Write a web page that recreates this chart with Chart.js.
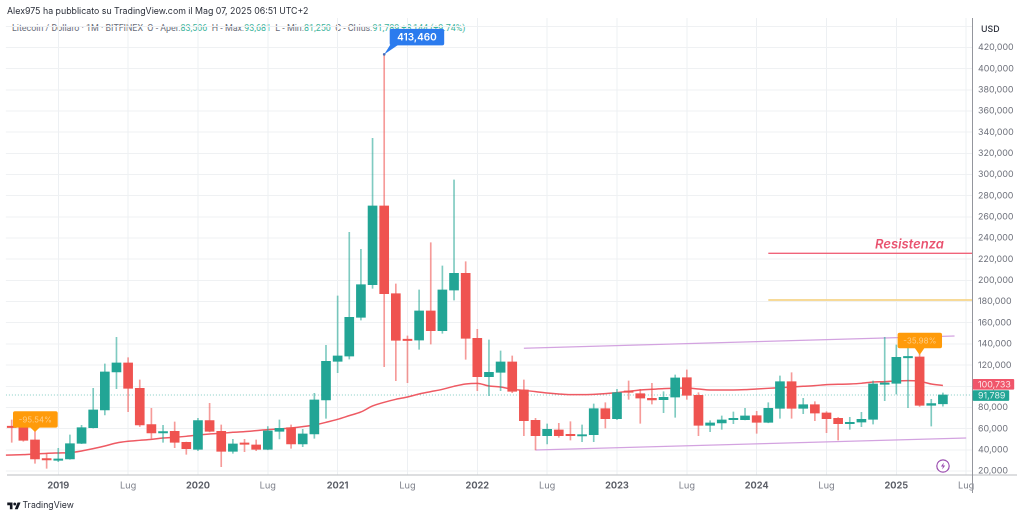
<!DOCTYPE html>
<html lang="it">
<head>
<meta charset="utf-8">
<title>Litecoin / Dollaro</title>
<script src="https://cdn.jsdelivr.net/npm/chart.js@4/dist/chart.umd.min.js"></script>
<style>
html,body{margin:0;padding:0;background:#fff;width:1024px;height:517px;overflow:hidden}
#wrap{position:relative;width:1024px;height:517px}
canvas{position:absolute;left:0;top:0;z-index:1;display:block}
.t{position:absolute;white-space:pre;font-family:Inter,"Liberation Sans",sans-serif}
#head{left:7px;top:4px;font-size:8.8px;line-height:13px;color:#2a2e39;z-index:2}
#legend{left:12px;top:22px;font-family:Roboto,sans-serif;font-size:8.9px;line-height:13px;color:#6a6e7a;z-index:0}
#legend b{font-weight:400;color:#3bb39b}
#tv{left:22.5px;top:498px;font-size:8.7px;line-height:14px;color:#2a2e39;z-index:2}
#logo{position:absolute;left:7px;top:501px;z-index:2}
#bolt{position:absolute;left:936px;top:459px;z-index:2}
</style>
</head>
<body>
<div id="wrap">
<div class="t" id="head">Alex975 ha pubblicato su TradingView.com il Mag 07, 2025 06:51 UTC+2</div>
<div class="t" id="legend">Litecoin / Dollaro · 1M · BITFINEX  O - Aper.<b>83,506</b>  H - Max.<b>93,681</b>  L - Min.<b>81,250</b>  C - Chius.<b>91,789 +8,144 (+9.74%)</b></div>
<canvas id="c" width="1024" height="517"></canvas>
<svg id="logo" width="14" height="9" viewBox="0 0 36 24"><path fill="#131722" d="M14 22H7V11H0V4h14v18zM28 22h-8l7.5-18h8L28 22z"/><circle fill="#131722" cx="20" cy="8" r="4"/></svg>
<div class="t" id="tv">TradingView</div>
<svg id="bolt" width="14" height="14" viewBox="0 0 14 14"><circle cx="7" cy="7" r="6.2" fill="#fff" stroke="#9c4fb0" stroke-width="1.2"/><path d="M7.8 3.4 4.9 7.6h2L6.2 10.6 9.2 6.4h-2z" fill="#9c4fb0"/></svg>
</div>
<script>
const months = [
'2018-09','2018-10','2018-11','2018-12',
'2019-01','2019-02','2019-03','2019-04','2019-05','2019-06','2019-07','2019-08','2019-09','2019-10','2019-11','2019-12',
'2020-01','2020-02','2020-03','2020-04','2020-05','2020-06','2020-07','2020-08','2020-09','2020-10','2020-11','2020-12',
'2021-01','2021-02','2021-03','2021-04','2021-05','2021-06','2021-07','2021-08','2021-09','2021-10','2021-11','2021-12',
'2022-01','2022-02','2022-03','2022-04','2022-05','2022-06','2022-07','2022-08','2022-09','2022-10','2022-11','2022-12',
'2023-01','2023-02','2023-03','2023-04','2023-05','2023-06','2023-07','2023-08','2023-09','2023-10','2023-11','2023-12',
'2024-01','2024-02','2024-03','2024-04','2024-05','2024-06','2024-07','2024-08','2024-09','2024-10','2024-11','2024-12',
'2025-01','2025-02','2025-03','2025-04','2025-05','2025-06','2025-07'];
const opens = [
61500,61240,49280,31650,
30070,31330,46130,60920,77610,113500,122000,98070,63760,55890,57460,47070,
40460,67540,57460,38570,45810,44550,40460,57460,60920,45500,54940,87050,
123570,128600,165140,195920,270240,187400,144180,143700,171090,152480,190920,206690,
145310,109050,113200,122930,96490,67880,53330,58720,54000,53050,54280,78830,
69390,94900,92990,88650,87330,89880,108100,91480,63150,65330,68440,68440,
72220,65990,79210,104330,79210,82610,74770,69770,64670,66270,68820,101870,
102810,126900,127650,82040,83506];
const closes = [
61000,48960,31330,30390,
31330,45810,60920,77610,113500,122000,98070,63440,55890,57150,47070,41090,
67540,57460,38570,45500,45180,40460,57780,60290,45500,54940,87050,123570,
128600,165140,195920,270240,187400,143420,143230,171090,152480,190920,206690,145310,
109050,113200,122930,95260,67500,53330,59380,53330,53330,54280,78830,69390,
93940,94320,88930,87050,89600,107820,91480,63150,65330,68160,69100,71940,
65990,79210,104330,79210,82610,74770,69390,64670,66000,68820,102150,102440,
127370,127800,82040,83645,91789];
const highs = [
68170,61500,57150,36680,
41410,54000,63130,98070,121050,146240,127030,105940,79180,63130,66280,47300,
69740,83900,63440,49910,49910,49280,61870,68170,63440,59350,93350,138680,
185250,245400,229350,334170,413460,196580,147480,190920,235580,213580,294790,217640,
153810,143700,133320,128600,105930,69770,64380,65040,66550,63440,83270,84500,
97150,104990,97150,102810,94880,110650,115370,93940,67500,71940,75710,79210,
76370,84500,109710,112830,88650,85440,76000,70500,70710,75430,104990,146250,
138980,142000,131000,87700,93681];
const lows = [
47070,48000,27240,22520,
28810,31000,45800,60500,72890,97760,76030,62000,50850,47070,42040,35740,
39200,56830,24090,36680,38260,39200,40000,50220,41410,42980,50850,69740,
112870,125760,162600,192520,118500,105270,103380,134920,139930,150000,181480,125480,
95830,91100,95830,93900,53330,39830,45500,51820,49270,47670,47670,60600,
68500,87700,65040,83270,75050,70710,87700,53330,57110,59380,64670,68160,
55600,65500,69770,69770,74110,67500,56170,49270,59380,61830,64380,86380,
92710,79770,81000,62490,81250];
// moving average, first value belongs to the month before the first category
const movingAverage = [
34800,35110,35430,36050,36680,37000,37310,38890,41090,43610,46440,48020,48960,49900,51170,51800,52740,54000,54940,55570,56520,57150,58090,
59040,59660,60610,61870,63440,65960,68790,72260,75720,81390,84850,87680,89890,92720,94920,97130,99960,102160,102790,100270,99330,97130,
96180,94920,93660,92720,92090,92090,92400,93030,93980,95240,96500,97130,97760,98070,98390,97440,96500,96500,96500,96810,97440,98070,
98700,99330,99960,100590,101530,101850,102160,102790,104050,104370,105000,105310,104680,102160,100733];
const channelTop = [{x:44,y:135870},{x:81,y:147480}];
const channelBottom = [{x:45,y:39830},{x:82,y:51160}];
const resistanceLine = [{x:65,y:225570},{x:82.5,y:225570}];
const supportLine = [{x:65,y:181470},{x:82.5,y:181470}];
const lastPriceLine = [{x:-0.5,y:91789},{x:82.5,y:91789}];
const tickMonths = ['2019-01','2019-07','2020-01','2020-07','2021-01','2021-07','2022-01','2022-07','2023-01','2023-07','2024-01','2024-07','2025-01','2025-07'];
const tickLabels = ['2019','Lug','2020','Lug','2021','Lug','2022','Lug','2023','Lug','2024','Lug','2025','Lug'];
const yTicks = [20000,40000,60000,80000,100000,120000,140000,160000,180000,200000,220000,240000,260000,280000,300000,320000,340000,360000,380000,400000,420000,440000];

const UP='#22a595', DOWN='#ef5350';
const num = v => v.toLocaleString('en-US');
const sans = 'Inter,"Liberation Sans",sans-serif';

const overlay = {
  id:'overlay',
  afterDraw(chart){
    const {ctx,chartArea:a,scales} = chart, xs=scales.x, ys=scales.y;
    ctx.save();
    // axis frame
    ctx.strokeStyle='#c8c9cd'; ctx.lineWidth=1.2;
    ctx.beginPath(); ctx.moveTo(7,a.bottom); ctx.lineTo(1017,a.bottom); ctx.stroke();
    ctx.strokeStyle='#94969d'; ctx.lineWidth=1;
    ctx.beginPath(); ctx.moveTo(a.right+.5,a.top); ctx.lineTo(a.right+.5,493); ctx.stroke();
    // USD caption
    ctx.font='500 8.8px '+sans; ctx.fillStyle='#2a2e39'; ctx.textAlign='left'; ctx.textBaseline='middle';
    ctx.fillText('USD',981,29.5);
    // Resistenza
    ctx.font='italic 600 13px '+sans; ctx.fillStyle='#e9526f'; ctx.textAlign='center';
    ctx.fillText('Resistenza',xs.getPixelForValue(77)+1.5,ys.getPixelForValue(234000));
    // callouts
    const bubble=(px,py,l,t,w,h,b0,b1,color,label,textColor,font)=>{
      ctx.fillStyle=color;
      ctx.beginPath(); ctx.roundRect(px+l,py+t,w,h,2); ctx.fill();
      ctx.beginPath(); ctx.moveTo(px,py); ctx.lineTo(px+b0,py+t+h-.5); ctx.lineTo(px+b1,py+t+h-.5); ctx.closePath(); ctx.fill();
      ctx.fillStyle=textColor; ctx.font=font+' '+sans; ctx.textAlign='center'; ctx.textBaseline='middle';
      ctx.fillText(label,px+l+w/2,py+t+h/2+.5);
    };
    const hx=xs.getPixelForValue(32), hy=ys.getPixelForValue(413460);
    ctx.fillStyle='#4a6fb5'; ctx.beginPath(); ctx.arc(hx,hy,1.3,0,7); ctx.fill();
    bubble(hx,hy,5.5,-25.5,54.5,16.5,6,14,'#2b7bee',num(413460),'#ffffff','600 10px');
    bubble(xs.getPixelForValue(2),ys.getPixelForValue(56830),-22,-20.7,44.7,16.3,-5,5,'#ff9b0a','-95.54%','rgba(255,255,255,.5)','400 8px');
    bubble(xs.getPixelForValue(78),ys.getPixelForValue(129540),-22,-22.3,44.4,15.6,-5,5,'#ff9b0a','-35.98%','rgba(255,255,255,.5)','400 8px');
    // price tags
    const tag=(v,dy,w,color,label)=>{
      const y=ys.getPixelForValue(v)+dy;
      ctx.fillStyle=color; ctx.beginPath(); ctx.roundRect(a.right+.7,y-5.3,w,10.6,1); ctx.fill();
      ctx.fillStyle='rgba(255,255,255,.85)'; ctx.font='400 8.9px '+sans; ctx.textAlign='left'; ctx.textBaseline='middle';
      ctx.fillText(label,a.right+6,y+.4);
    };
    tag(100733,-1.2,41.5,'#f0556a',num(100733));
    tag(91789,.6,36.5,'#22a595',num(91789));
    ctx.restore();
  }
};

new Chart(document.getElementById('c'),{
  type:'bar',
  plugins:[overlay],
  data:{
    labels:months,
    datasets:[
      {type:'bar',grouped:false,order:2,barThickness:9,minBarLength:1.3,borderWidth:0,
       data:opens.map((o,i)=>[o,closes[i]]),
       backgroundColor:closes.map((c,i)=>c>=opens[i]?UP:DOWN)},
      {type:'bar',grouped:false,order:3,barThickness:1,borderWidth:0,
       data:lows.map((l,i)=>[l,highs[i]]),
       backgroundColor:closes.map((c,i)=>c>=opens[i]?'rgba(34,165,149,.58)':'rgba(239,83,80,.58)')},
      {type:'line',xAxisID:'xn',order:4,data:movingAverage.map((y,i)=>({x:i-1,y})),borderColor:'#ee5a63',borderWidth:1.5,pointRadius:0,cubicInterpolationMode:'monotone'},
      {type:'line',xAxisID:'xn',order:5,data:channelTop,borderColor:'#d3a3e0',borderWidth:1.3,pointRadius:0},
      {type:'line',xAxisID:'xn',order:5,data:channelBottom,borderColor:'#d3a3e0',borderWidth:1.3,pointRadius:0},
      {type:'line',xAxisID:'xn',order:5,data:resistanceLine,borderColor:'#f0647a',borderWidth:1.3,pointRadius:0},
      {type:'line',xAxisID:'xn',order:5,data:supportLine,borderColor:'#f6d58a',borderWidth:1.8,pointRadius:0},
      {type:'line',xAxisID:'xn',order:6,data:lastPriceLine,borderColor:'rgba(34,165,149,.55)',borderWidth:1,borderDash:[1,2],pointRadius:0}
    ]
  },
  options:{
    responsive:false,animation:false,devicePixelRatio:2,
    layout:{padding:{left:5.9,top:18,right:0,bottom:0}},
    plugins:{legend:{display:false},tooltip:{enabled:false}},
    scales:{
      x:{type:'category',offset:true,position:'bottom',
         grid:{offset:false,color:'#edf0f3',lineWidth:1,drawTicks:false},border:{display:false},
         afterBuildTicks(s){s.ticks=s.ticks.filter(t=>tickMonths.includes(months[t.value]));},
         afterFit(s){s.height=42;},
         ticks:{autoSkip:false,maxRotation:0,minRotation:0,padding:5,
           callback:v=>tickLabels[tickMonths.indexOf(months[v])],
           font:c=>({family:sans,size:9.2,weight:/^\d/.test(String(c.tick&&c.tick.label))?'700':'400'}),
           color:c=>/^\d/.test(String(c.tick&&c.tick.label))?'#5a5d66':'#7b7e88'}},
      xn:{type:'linear',display:false,offset:false,min:-0.5,max:82.5,position:'bottom'},
      y:{type:'linear',position:'right',min:16200,max:447800,
         grid:{color:'#eff1f3',lineWidth:1,drawTicks:false},border:{display:false},
         afterBuildTicks(s){s.ticks=yTicks.map(value=>({value}));},
         afterFit(s){s.width=52;},
         ticks:{padding:6,autoSkip:false,color:'#6f727c',font:{family:sans,size:8.9},
           callback:v=>v>420000?'':num(v)}}
    }
  }
});
</script>
</body>
</html>
